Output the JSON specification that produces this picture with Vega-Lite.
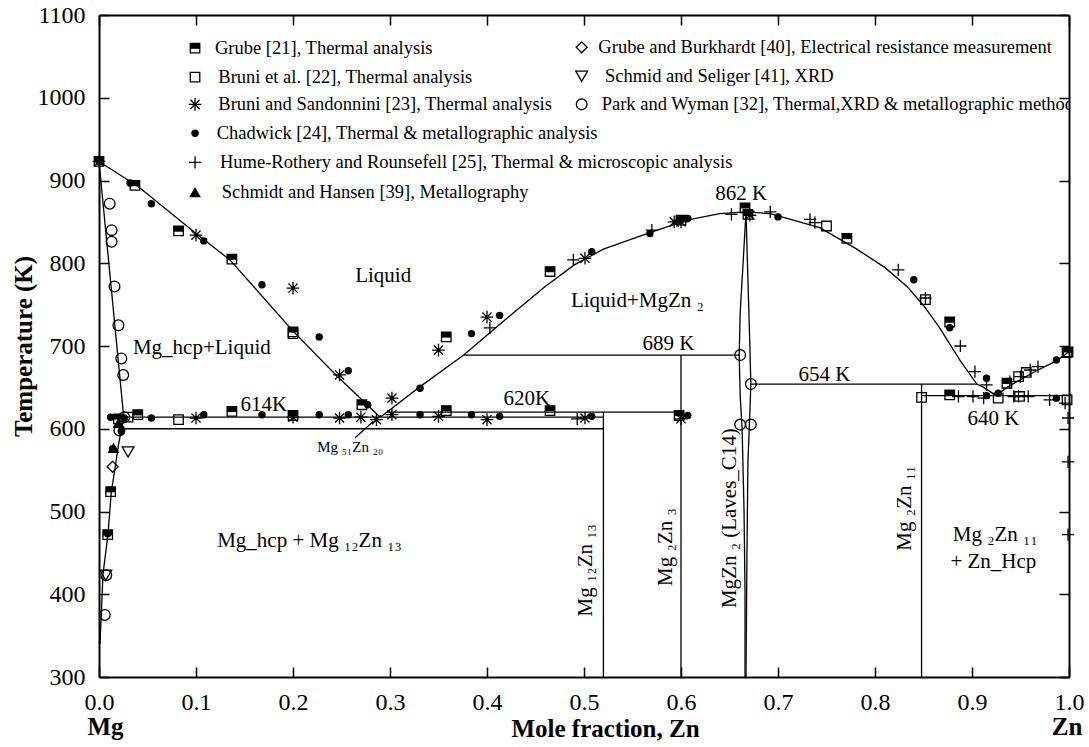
{
  "$schema": "https://vega.github.io/schema/vega-lite/v6.json",
  "width": 970,
  "height": 662,
  "autosize": {"type": "none"},
  "padding": {"left": 99, "top": 15, "right": 20, "bottom": 70},
  "background": "white",
  "config": {"view": {"stroke": null}, "font": "Liberation Serif"},
  "datasets": {
    "lines": [
      {"g": "liqMg", "o": 1, "x": 0, "T": 923}, {"g": "liqMg", "o": 2, "x": 0.04, "T": 893}, {"g": "liqMg", "o": 3, "x": 0.1, "T": 836}, {"g": "liqMg", "o": 4, "x": 0.135, "T": 804}, {"g": "liqMg", "o": 5, "x": 0.2, "T": 718}, {"g": "liqMg", "o": 6, "x": 0.245, "T": 664}, {"g": "liqMg", "o": 7, "x": 0.29, "T": 614},
      {"g": "liqA", "o": 1, "x": 0.29, "T": 614}, {"g": "liqA", "o": 2, "x": 0.33, "T": 650}, {"g": "liqA", "o": 3, "x": 0.376, "T": 689}, {"g": "liqA", "o": 4, "x": 0.42, "T": 733}, {"g": "liqA", "o": 5, "x": 0.46, "T": 772}, {"g": "liqA", "o": 6, "x": 0.49, "T": 798}, {"g": "liqA", "o": 7, "x": 0.52, "T": 817}, {"g": "liqA", "o": 8, "x": 0.568, "T": 837}, {"g": "liqA", "o": 9, "x": 0.606, "T": 852}, {"g": "liqA", "o": 10, "x": 0.64, "T": 860}, {"g": "liqA", "o": 11, "x": 0.667, "T": 862},
      {"g": "liqB", "o": 1, "x": 0.667, "T": 862}, {"g": "liqB", "o": 2, "x": 0.692, "T": 860}, {"g": "liqB", "o": 3, "x": 0.743, "T": 843}, {"g": "liqB", "o": 4, "x": 0.78, "T": 818}, {"g": "liqB", "o": 5, "x": 0.81, "T": 795}, {"g": "liqB", "o": 6, "x": 0.833, "T": 772}, {"g": "liqB", "o": 7, "x": 0.85, "T": 749}, {"g": "liqB", "o": 8, "x": 0.866, "T": 723}, {"g": "liqB", "o": 9, "x": 0.888, "T": 682}, {"g": "liqB", "o": 10, "x": 0.905, "T": 654}, {"g": "liqB", "o": 11, "x": 0.912, "T": 650}, {"g": "liqB", "o": 12, "x": 0.925, "T": 640},
      {"g": "liqZn", "o": 1, "x": 0.925, "T": 640}, {"g": "liqZn", "o": 2, "x": 0.936, "T": 650}, {"g": "liqZn", "o": 3, "x": 0.963, "T": 668}, {"g": "liqZn", "o": 4, "x": 0.987, "T": 682}, {"g": "liqZn", "o": 5, "x": 1.0, "T": 693},
      {"g": "solMg", "o": 1, "x": 0, "T": 923}, {"g": "solMg", "o": 2, "x": 0.0255, "T": 614},
      {"g": "solvMg", "o": 1, "x": 0.0255, "T": 614}, {"g": "solvMg", "o": 2, "x": 0.02, "T": 580}, {"g": "solvMg", "o": 3, "x": 0.016, "T": 548}, {"g": "solvMg", "o": 4, "x": 0.0127, "T": 524}, {"g": "solvMg", "o": 5, "x": 0.0093, "T": 473}, {"g": "solvMg", "o": 6, "x": 0.0041, "T": 424}, {"g": "solvMg", "o": 7, "x": 0.0024, "T": 376}, {"g": "solvMg", "o": 8, "x": 0.001, "T": 340},
      {"g": "h614", "o": 1, "x": 0.0255, "T": 614}, {"g": "h614", "o": 2, "x": 0.52, "T": 614},
      {"g": "h600", "o": 1, "x": 0.021, "T": 600}, {"g": "h600", "o": 2, "x": 0.52, "T": 600},
      {"g": "h620", "o": 1, "x": 0.297, "T": 620}, {"g": "h620", "o": 2, "x": 0.6, "T": 620},
      {"g": "h689", "o": 1, "x": 0.376, "T": 689}, {"g": "h689", "o": 2, "x": 0.66, "T": 689},
      {"g": "h654", "o": 1, "x": 0.672, "T": 654}, {"g": "h654", "o": 2, "x": 0.905, "T": 654},
      {"g": "h640", "o": 1, "x": 0.848, "T": 640}, {"g": "h640", "o": 2, "x": 1.0, "T": 640},
      {"g": "v052", "o": 1, "x": 0.52, "T": 300}, {"g": "v052", "o": 2, "x": 0.52, "T": 620},
      {"g": "v060", "o": 1, "x": 0.6, "T": 300}, {"g": "v060", "o": 2, "x": 0.6, "T": 689},
      {"g": "v085", "o": 1, "x": 0.848, "T": 300}, {"g": "v085", "o": 2, "x": 0.848, "T": 654},
      {"g": "mgzn2L", "o": 1, "x": 0.667, "T": 862}, {"g": "mgzn2L", "o": 2, "x": 0.664, "T": 800}, {"g": "mgzn2L", "o": 3, "x": 0.661, "T": 740}, {"g": "mgzn2L", "o": 4, "x": 0.66, "T": 689}, {"g": "mgzn2L", "o": 5, "x": 0.661, "T": 640}, {"g": "mgzn2L", "o": 6, "x": 0.663, "T": 600}, {"g": "mgzn2L", "o": 7, "x": 0.665, "T": 500}, {"g": "mgzn2L", "o": 8, "x": 0.666, "T": 400}, {"g": "mgzn2L", "o": 9, "x": 0.666, "T": 300},
      {"g": "mgzn2R", "o": 1, "x": 0.667, "T": 862}, {"g": "mgzn2R", "o": 2, "x": 0.669, "T": 780}, {"g": "mgzn2R", "o": 3, "x": 0.671, "T": 700}, {"g": "mgzn2R", "o": 4, "x": 0.672, "T": 654}, {"g": "mgzn2R", "o": 5, "x": 0.671, "T": 620}, {"g": "mgzn2R", "o": 6, "x": 0.669, "T": 560}, {"g": "mgzn2R", "o": 7, "x": 0.668, "T": 450}, {"g": "mgzn2R", "o": 8, "x": 0.667, "T": 300},
      {"g": "lead", "o": 1, "x": 0.264, "T": 589}, {"g": "lead", "o": 2, "x": 0.283, "T": 609}
    ],
    "pts": [
      {"s": "G21", "x": 0, "T": 923}, {"s": "G21", "x": 0.037, "T": 894}, {"s": "G21", "x": 0.082, "T": 839}, {"s": "G21", "x": 0.137, "T": 805}, {"s": "G21", "x": 0.2, "T": 717}, {"s": "G21", "x": 0.271, "T": 629}, {"s": "G21", "x": 0.358, "T": 711}, {"s": "G21", "x": 0.465, "T": 790}, {"s": "G21", "x": 0.6, "T": 852}, {"s": "G21", "x": 0.666, "T": 867}, {"s": "G21", "x": 0.669, "T": 859}, {"s": "G21", "x": 0.771, "T": 830}, {"s": "G21", "x": 0.877, "T": 729}, {"s": "G21", "x": 0.877, "T": 641}, {"s": "G21", "x": 0.936, "T": 655}, {"s": "G21", "x": 0.999, "T": 693},
      {"s": "G21", "x": 0.04, "T": 617}, {"s": "G21", "x": 0.137, "T": 621}, {"s": "G21", "x": 0.2, "T": 616}, {"s": "G21", "x": 0.358, "T": 622}, {"s": "G21", "x": 0.465, "T": 622}, {"s": "G21", "x": 0.598, "T": 616}, {"s": "G21", "x": 0.012, "T": 524}, {"s": "G21", "x": 0.009, "T": 472}, {"s": "G21", "x": 0.02, "T": 612},
      {"s": "B22", "x": 0.03, "T": 614}, {"s": "B22", "x": 0.082, "T": 611}, {"s": "B22", "x": 0.2, "T": 715}, {"s": "B22", "x": 0.75, "T": 845}, {"s": "B22", "x": 0.852, "T": 756}, {"s": "B22", "x": 0.848, "T": 638}, {"s": "B22", "x": 0.927, "T": 637}, {"s": "B22", "x": 0.949, "T": 639}, {"s": "B22", "x": 0.948, "T": 663}, {"s": "B22", "x": 0.956, "T": 668}, {"s": "B22", "x": 0.998, "T": 692}, {"s": "B22", "x": 0.998, "T": 635},
      {"s": "BS23", "x": 0, "T": 923}, {"s": "BS23", "x": 0.1, "T": 834}, {"s": "BS23", "x": 0.2, "T": 770}, {"s": "BS23", "x": 0.248, "T": 665}, {"s": "BS23", "x": 0.302, "T": 637}, {"s": "BS23", "x": 0.35, "T": 695}, {"s": "BS23", "x": 0.4, "T": 735}, {"s": "BS23", "x": 0.501, "T": 806}, {"s": "BS23", "x": 0.593, "T": 850}, {"s": "BS23", "x": 0.6, "T": 850}, {"s": "BS23", "x": 0.671, "T": 858},
      {"s": "BS23", "x": 0.1, "T": 613}, {"s": "BS23", "x": 0.2, "T": 614}, {"s": "BS23", "x": 0.248, "T": 613}, {"s": "BS23", "x": 0.27, "T": 614}, {"s": "BS23", "x": 0.286, "T": 611}, {"s": "BS23", "x": 0.302, "T": 617}, {"s": "BS23", "x": 0.35, "T": 615}, {"s": "BS23", "x": 0.4, "T": 611}, {"s": "BS23", "x": 0.501, "T": 613}, {"s": "BS23", "x": 0.6, "T": 612},
      {"s": "C24", "x": 0, "T": 923}, {"s": "C24", "x": 0.032, "T": 897}, {"s": "C24", "x": 0.054, "T": 872}, {"s": "C24", "x": 0.108, "T": 827}, {"s": "C24", "x": 0.168, "T": 774}, {"s": "C24", "x": 0.227, "T": 711}, {"s": "C24", "x": 0.257, "T": 670}, {"s": "C24", "x": 0.277, "T": 629}, {"s": "C24", "x": 0.331, "T": 649}, {"s": "C24", "x": 0.384, "T": 715}, {"s": "C24", "x": 0.413, "T": 737}, {"s": "C24", "x": 0.508, "T": 814}, {"s": "C24", "x": 0.568, "T": 836}, {"s": "C24", "x": 0.607, "T": 854}, {"s": "C24", "x": 0.7, "T": 856}, {"s": "C24", "x": 0.84, "T": 780}, {"s": "C24", "x": 0.877, "T": 722}, {"s": "C24", "x": 0.915, "T": 661}, {"s": "C24", "x": 0.927, "T": 643}, {"s": "C24", "x": 0.987, "T": 683},
      {"s": "C24", "x": 0.026, "T": 613}, {"s": "C24", "x": 0.054, "T": 613}, {"s": "C24", "x": 0.108, "T": 617}, {"s": "C24", "x": 0.168, "T": 617}, {"s": "C24", "x": 0.227, "T": 617}, {"s": "C24", "x": 0.257, "T": 617}, {"s": "C24", "x": 0.331, "T": 617}, {"s": "C24", "x": 0.384, "T": 617}, {"s": "C24", "x": 0.413, "T": 615}, {"s": "C24", "x": 0.508, "T": 615}, {"s": "C24", "x": 0.607, "T": 616}, {"s": "C24", "x": 0.915, "T": 640}, {"s": "C24", "x": 0.987, "T": 637}, {"s": "C24", "x": 0.023, "T": 597}, {"s": "C24", "x": 0.014, "T": 576}, {"s": "C24", "x": 0.009, "T": 473}, {"s": "C24", "x": 0.012, "T": 614},
      {"s": "H25", "x": 0.403, "T": 722}, {"s": "H25", "x": 0.489, "T": 804}, {"s": "H25", "x": 0.57, "T": 840}, {"s": "H25", "x": 0.652, "T": 859}, {"s": "H25", "x": 0.692, "T": 862}, {"s": "H25", "x": 0.733, "T": 853}, {"s": "H25", "x": 0.738, "T": 849}, {"s": "H25", "x": 0.824, "T": 792}, {"s": "H25", "x": 0.852, "T": 758}, {"s": "H25", "x": 0.888, "T": 700}, {"s": "H25", "x": 0.903, "T": 669}, {"s": "H25", "x": 0.915, "T": 653}, {"s": "H25", "x": 0.939, "T": 657}, {"s": "H25", "x": 0.96, "T": 671}, {"s": "H25", "x": 0.968, "T": 675}, {"s": "H25", "x": 0.95, "T": 663},
      {"s": "H25", "x": 0.493, "T": 612}, {"s": "H25", "x": 0.886, "T": 639}, {"s": "H25", "x": 0.901, "T": 639}, {"s": "H25", "x": 0.912, "T": 637}, {"s": "H25", "x": 0.943, "T": 639}, {"s": "H25", "x": 0.948, "T": 639}, {"s": "H25", "x": 0.958, "T": 639}, {"s": "H25", "x": 0.98, "T": 635}, {"s": "H25", "x": 0.996, "T": 631}, {"s": "H25", "x": 0.999, "T": 613}, {"s": "H25", "x": 0.999, "T": 560}, {"s": "H25", "x": 0.999, "T": 472},
      {"s": "S39", "x": 0.02, "T": 607}, {"s": "S39", "x": 0.015, "T": 577},
      {"s": "GB40", "x": 0.014, "T": 554},
      {"s": "SS41", "x": 0.03, "T": 572}, {"s": "SS41", "x": 0.007, "T": 423},
      {"s": "P32", "x": 0.011, "T": 872}, {"s": "P32", "x": 0.013, "T": 840}, {"s": "P32", "x": 0.013, "T": 826}, {"s": "P32", "x": 0.016, "T": 772}, {"s": "P32", "x": 0.02, "T": 725}, {"s": "P32", "x": 0.023, "T": 685}, {"s": "P32", "x": 0.025, "T": 665}, {"s": "P32", "x": 0.026, "T": 614}, {"s": "P32", "x": 0.021, "T": 598}, {"s": "P32", "x": 0.0075, "T": 423}, {"s": "P32", "x": 0.006, "T": 375}, {"s": "P32", "x": 0.661, "T": 689}, {"s": "P32", "x": 0.672, "T": 654}, {"s": "P32", "x": 0.661, "T": 605}, {"s": "P32", "x": 0.672, "T": 605}
    ],
    "leg": [
      {"s": "G21", "x": 0.099, "T": 1060, "tx": 0.1196, "label": "Grube [21], Thermal analysis"},
      {"s": "B22", "x": 0.099, "T": 1025, "tx": 0.123, "label": "Bruni et al. [22], Thermal analysis"},
      {"s": "BS23", "x": 0.099, "T": 992, "tx": 0.123, "label": "Bruni and Sandonnini [23], Thermal analysis"},
      {"s": "C24", "x": 0.099, "T": 957, "tx": 0.1213, "label": "Chadwick [24], Thermal & metallographic analysis"},
      {"s": "H25", "x": 0.099, "T": 922, "tx": 0.1247, "label": "Hume-Rothery and Rounsefell [25], Thermal & microscopic analysis"},
      {"s": "S39", "x": 0.099, "T": 886, "tx": 0.1265, "label": "Schmidt and Hansen [39], Metallography"},
      {"s": "GB40", "x": 0.4976, "T": 1061, "tx": 0.5148, "label": "Grube and Burkhardt [40], Electrical resistance measurement"},
      {"s": "SS41", "x": 0.4976, "T": 1026, "tx": 0.5216, "label": "Schmid and Seliger [41], XRD"},
      {"s": "P32", "x": 0.4976, "T": 992, "tx": 0.5182, "label": "Park and Wyman [32], Thermal,XRD & metallographic method"}
    ],
    "notes": [
      {"x": 0.293, "T": 784, "text": "Liquid"},
      {"x": 0.555, "T": 754, "text": "Liquid+MgZn ₂"},
      {"x": 0.106, "T": 697, "text": "Mg_hcp+Liquid"},
      {"x": 0.17, "T": 629, "text": "614K"},
      {"x": 0.441, "T": 636, "text": "620K"},
      {"x": 0.587, "T": 702, "text": "689 K"},
      {"x": 0.662, "T": 884, "text": "862 K"},
      {"x": 0.748, "T": 665, "text": "654 K"},
      {"x": 0.922, "T": 612, "text": "640 K"},
      {"x": 0.217, "T": 464, "text": "Mg_hcp + Mg ₁₂Zn ₁₃"},
      {"x": 0.924, "T": 472, "text": "Mg ₂Zn ₁₁"},
      {"x": 0.922, "T": 439, "text": "+ Zn_Hcp"}
    ],
    "vnotes": [
      {"x": 0.502, "T": 429, "text": "Mg ₁₂Zn ₁₃"},
      {"x": 0.585, "T": 457, "text": "Mg ₂Zn ₃"},
      {"x": 0.6505, "T": 492, "text": "MgZn ₂ (Laves_C14)"},
      {"x": 0.831, "T": 504, "text": "Mg ₂Zn ₁₁"}
    ],
    "small": [{"x": 0.259, "T": 578, "text": "Mg ₅₁Zn ₂₀"}],
    "ends": [{"x": 0.0067, "T": 240, "text": "Mg"}, {"x": 0.998, "T": 240, "text": "Zn"}]
  },
  "layer": [
    {
      "data": {"name": "lines"},
      "mark": {"type": "line", "color": "black", "strokeWidth": 1.3},
      "encoding": {
        "x": {"field": "x", "type": "quantitative", "scale": {"domain": [0, 1], "nice": false, "zero": false},
          "axis": {"orient": "bottom", "values": [0, 0.1, 0.2, 0.3, 0.4, 0.5, 0.6, 0.7, 0.8, 0.9, 1.0], "format": ".1f", "labelFont": "Liberation Serif", "labelFontSize": 24, "labelColor": "black", "labelPadding": 23, "labelFlush": false, "tickSize": -10, "tickWidth": 1.5, "tickColor": "black", "domainColor": "black", "domainWidth": 2, "grid": false,
            "title": "Mole fraction, Zn", "titleFont": "Liberation Serif", "titleFontSize": 25, "titleFontWeight": "bold", "titleColor": "black", "titleX": 506, "titleY": 51, "titleBaseline": "middle", "titleAlign": "center"}},
        "y": {"field": "T", "type": "quantitative", "scale": {"domain": [300, 1100], "nice": false, "zero": false},
          "axis": {"orient": "left", "values": [300, 400, 500, 600, 700, 800, 900, 1000, 1100], "format": "d", "labelFont": "Liberation Serif", "labelFontSize": 24, "labelColor": "black", "labelPadding": 24, "tickSize": -10, "tickWidth": 1.5, "tickColor": "black", "domainColor": "black", "domainWidth": 2, "grid": false,
            "title": "Temperature (K)", "titleFont": "Liberation Serif", "titleFontSize": 25, "titleFontWeight": "bold", "titleColor": "black", "titleX": -76, "titleY": 331, "titleAngle": 270, "titleBaseline": "middle", "titleAlign": "center"}},
        "detail": {"field": "g"},
        "order": {"field": "o", "type": "quantitative"}
      }
    },
    {
      "data": {"name": "lines"},
      "mark": {"type": "line", "opacity": 0},
      "encoding": {
        "x": {"field": "x", "type": "quantitative", "axis": {"orient": "top", "values": [0, 0.1, 0.2, 0.3, 0.4, 0.5, 0.6, 0.7, 0.8, 0.9, 1.0], "labels": false, "tickSize": -10, "tickWidth": 1.5, "tickColor": "black", "domainColor": "black", "domainWidth": 2, "grid": false, "title": null}},
        "y": {"field": "T", "type": "quantitative", "axis": {"orient": "right", "values": [300, 400, 500, 600, 700, 800, 900, 1000, 1100], "labels": false, "tickSize": -10, "tickWidth": 1.5, "tickColor": "black", "domainColor": "black", "domainWidth": 2, "grid": false, "title": null}},
        "detail": {"field": "g"},
        "order": {"field": "o", "type": "quantitative"}
      }
    },
    {
      "data": {"name": "pts"},
      "transform": [{"filter": {"field": "s", "oneOf": ["G21", "B22", "BS23", "H25", "GB40", "SS41", "P32"]}}],
      "mark": {"type": "point", "filled": false, "stroke": "black", "strokeWidth": 1.3, "opacity": 1},
      "encoding": {
        "x": {"field": "x", "type": "quantitative", "axis": null},
        "y": {"field": "T", "type": "quantitative", "axis": null},
        "shape": {"field": "s", "type": "nominal", "legend": null, "scale": {"domain": ["G21", "B22", "BS23", "H25", "GB40", "SS41", "P32"], "range": ["square", "square", "M0,-1V1M-1,0H1M-0.72,-0.72L0.72,0.72M-0.72,0.72L0.72,-0.72", "M-1,0H1M0,-1V1", "diamond", "triangle-down", "circle"]}},
        "size": {"field": "s", "type": "nominal", "legend": null, "scale": {"type": "ordinal", "domain": ["G21", "B22", "BS23", "H25", "GB40", "SS41", "P32"], "range": [90, 90, 160, 150, 120, 140, 115]}}
      }
    },
    {
      "data": {"name": "pts"},
      "transform": [{"filter": {"field": "s", "oneOf": ["G21", "C24", "S39"]}}],
      "mark": {"type": "point", "filled": true, "color": "black", "opacity": 1},
      "encoding": {
        "x": {"field": "x", "type": "quantitative", "axis": null},
        "y": {"field": "T", "type": "quantitative", "axis": null},
        "shape": {"field": "s", "type": "nominal", "legend": null, "scale": {"domain": ["G21", "C24", "S39"], "range": ["M-1,-1H1V0.15H-1Z", "circle", "triangle-up"]}},
        "size": {"field": "s", "type": "nominal", "legend": null, "scale": {"type": "ordinal", "domain": ["G21", "C24", "S39"], "range": [90, 55, 140]}}
      }
    },
    {
      "data": {"name": "leg"},
      "transform": [{"filter": {"field": "s", "oneOf": ["G21", "B22", "BS23", "H25", "GB40", "SS41", "P32"]}}],
      "mark": {"type": "point", "filled": false, "stroke": "black", "strokeWidth": 1.3, "opacity": 1},
      "encoding": {
        "x": {"field": "x", "type": "quantitative", "axis": null},
        "y": {"field": "T", "type": "quantitative", "axis": null},
        "shape": {"field": "s", "type": "nominal", "legend": null, "scale": {"domain": ["G21", "B22", "BS23", "H25", "GB40", "SS41", "P32"], "range": ["square", "square", "M0,-1V1M-1,0H1M-0.72,-0.72L0.72,0.72M-0.72,0.72L0.72,-0.72", "M-1,0H1M0,-1V1", "diamond", "triangle-down", "circle"]}},
        "size": {"field": "s", "type": "nominal", "legend": null, "scale": {"type": "ordinal", "domain": ["G21", "B22", "BS23", "H25", "GB40", "SS41", "P32"], "range": [90, 90, 160, 150, 120, 140, 115]}}
      }
    },
    {
      "data": {"name": "leg"},
      "transform": [{"filter": {"field": "s", "oneOf": ["G21", "C24", "S39"]}}],
      "mark": {"type": "point", "filled": true, "color": "black", "opacity": 1},
      "encoding": {
        "x": {"field": "x", "type": "quantitative", "axis": null},
        "y": {"field": "T", "type": "quantitative", "axis": null},
        "shape": {"field": "s", "type": "nominal", "legend": null, "scale": {"domain": ["G21", "C24", "S39"], "range": ["M-1,-1H1V0.15H-1Z", "circle", "triangle-up"]}},
        "size": {"field": "s", "type": "nominal", "legend": null, "scale": {"type": "ordinal", "domain": ["G21", "C24", "S39"], "range": [90, 55, 140]}}
      }
    },
    {
      "data": {"name": "leg"},
      "mark": {"type": "text", "font": "Liberation Serif", "fontSize": 18.5, "align": "left", "baseline": "middle", "color": "black", "clip": true},
      "encoding": {
        "x": {"field": "tx", "type": "quantitative", "axis": null},
        "y": {"field": "T", "type": "quantitative", "axis": null},
        "text": {"field": "label"}
      }
    },
    {
      "data": {"name": "notes"},
      "mark": {"type": "text", "font": "Liberation Serif", "fontSize": 21, "align": "center", "baseline": "middle", "color": "black"},
      "encoding": {
        "x": {"field": "x", "type": "quantitative", "axis": null},
        "y": {"field": "T", "type": "quantitative", "axis": null},
        "text": {"field": "text"}
      }
    },
    {
      "data": {"name": "vnotes"},
      "mark": {"type": "text", "font": "Liberation Serif", "fontSize": 21, "align": "center", "baseline": "middle", "angle": 270, "color": "black"},
      "encoding": {
        "x": {"field": "x", "type": "quantitative", "axis": null},
        "y": {"field": "T", "type": "quantitative", "axis": null},
        "text": {"field": "text"}
      }
    },
    {
      "data": {"name": "small"},
      "mark": {"type": "text", "font": "Liberation Serif", "fontSize": 15, "align": "center", "baseline": "middle", "color": "black"},
      "encoding": {
        "x": {"field": "x", "type": "quantitative", "axis": null},
        "y": {"field": "T", "type": "quantitative", "axis": null},
        "text": {"field": "text"}
      }
    },
    {
      "data": {"name": "ends"},
      "mark": {"type": "text", "font": "Liberation Serif", "fontSize": 25, "fontWeight": "bold", "align": "center", "baseline": "middle", "color": "black"},
      "encoding": {
        "x": {"field": "x", "type": "quantitative", "axis": null},
        "y": {"field": "T", "type": "quantitative", "axis": null},
        "text": {"field": "text"}
      }
    }
  ],
  "resolve": {"axis": {"x": "independent", "y": "independent"}, "scale": {"shape": "independent", "size": "independent"}}
}
